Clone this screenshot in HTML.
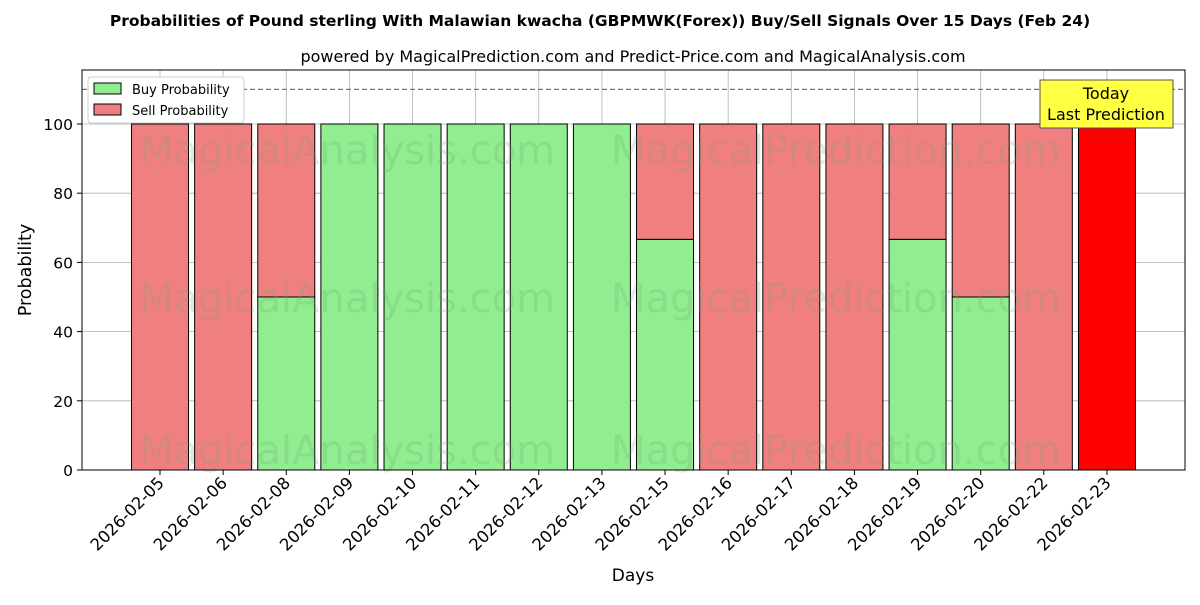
<!DOCTYPE html>
<html><head><meta charset="utf-8"><style>
body{margin:0;background:#fff;}
svg{font-family:"DejaVu Sans","Liberation Sans",sans-serif;}
</style></head><body>
<svg id="c" width="1200" height="600" xmlns="http://www.w3.org/2000/svg">
<text x="600" y="26" text-anchor="middle" font-size="15.5" font-weight="bold">Probabilities of Pound sterling With Malawian kwacha (GBPMWK(Forex)) Buy/Sell Signals Over 15 Days (Feb 24)</text>
<text x="633" y="62" text-anchor="middle" font-size="16">powered by MagicalPrediction.com and Predict-Price.com and MagicalAnalysis.com</text>
<g id="grid"></g><g id="bars"></g><g id="wm"></g><g id="axes"></g>
<text x="633" y="581" text-anchor="middle" font-size="17">Days</text>
<text transform="translate(31,270) rotate(-90)" text-anchor="middle" font-size="17.5">Probability</text>
</svg>
<script>
const categories=["2026-02-05","2026-02-06","2026-02-08","2026-02-09","2026-02-10","2026-02-11","2026-02-12","2026-02-13","2026-02-15","2026-02-16","2026-02-17","2026-02-18","2026-02-19","2026-02-20","2026-02-22","2026-02-23"];
const buyValues=[0,0,50,100,100,100,100,100,66.67,0,0,0,66.67,50,0,0];
const sellValues=[100,100,50,0,0,0,0,0,33.33,100,100,100,33.33,50,100,100];
const yTicks=[0,20,40,60,80,100];
const NS="http://www.w3.org/2000/svg";
const L=82,R=1185,T=70,B=470,YMAX=115.6;
const y=v=>B-(v/YMAX)*(B-T);
const x=i=>160+i*63.13;
const bw=57;
function mk(tag,attrs,parent,txt){const e=document.createElementNS(NS,tag);for(const k in attrs)e.setAttribute(k,attrs[k]);if(txt!==undefined)e.textContent=txt;document.getElementById(parent)?document.getElementById(parent).appendChild(e):parent.appendChild(e);return e;}
yTicks.forEach(t=>{
 const g=mk('line',{x1:L,x2:R,y1:y(t),y2:y(t),stroke:'#b0b0b0','stroke-width':0.8},'grid');
 
 
 const tk=mk('line',{x1:L-5,x2:L,y1:y(t),y2:y(t),stroke:'#000'},'axes');
 
 
 const tl=mk('text',{x:L-9,y:y(t)+6,'text-anchor':'end','font-size':15.5},'axes',String(t));
 
 
});
categories.forEach((c,i)=>{
 const g=mk('line',{x1:x(i),x2:x(i),y1:T,y2:B,stroke:'#b0b0b0','stroke-width':0.8},'grid');
 
 
 const last=i===categories.length-1;
 if(buyValues[i]>0){
  const b=mk('rect',{x:x(i)-bw/2,y:y(buyValues[i]),width:bw,height:B-y(buyValues[i]),fill:'#90ee90',stroke:'#000','stroke-width':1},'bars');
  
  
 }
 if(sellValues[i]>0){
  const s=mk('rect',{x:x(i)-bw/2,y:y(buyValues[i]+sellValues[i]),width:bw,height:y(buyValues[i])-y(buyValues[i]+sellValues[i]),fill:last?'#ff0000':'#f08080',stroke:'#000','stroke-width':1},'bars');
  
  
 }
 const tk=mk('line',{x1:x(i),x2:x(i),y1:B,y2:B+5,stroke:'#000'},'axes');
 
 
 const tl=mk('text',{x:x(i)+5,y:B+14,'text-anchor':'end','font-size':16.5,transform:`rotate(-45 ${x(i)+5} ${B+14})`},'axes',c);
 
 
});
const dl=mk('line',{x1:L,x2:R,y1:y(110),y2:y(110),stroke:'#777','stroke-dasharray':'5,3','stroke-width':1.2},'axes');


[[347,150],[836,150],[347,298],[836,298],[347,450],[836,450]].forEach((p,k)=>{
 const w=mk('text',{x:p[0],y:p[1]+14,'text-anchor':'middle','font-size':40,fill:'rgba(120,160,120,0.22)'},'wm',k%2?'MagicalPrediction.com':'MagicalAnalysis.com');
 
 
});
const fr=mk('rect',{x:L,y:T,width:R-L,height:B-T,fill:'none',stroke:'#000','stroke-width':1},'axes');


const lg=mk('g',{},'axes');


mk('rect',{x:88,y:77,width:156,height:46,fill:'#fff',stroke:'#ccc',rx:3},lg);
const l1=mk('rect',{x:94,y:83,width:27,height:11,fill:'#90ee90',stroke:'#000'},lg);


mk('text',{x:132,y:94,'font-size':13},lg,'Buy Probability');
const l2=mk('rect',{x:94,y:104,width:27,height:11,fill:'#f08080',stroke:'#000'},lg);


mk('text',{x:132,y:115,'font-size':13},lg,'Sell Probability');
const tb=mk('g',{},'axes');


mk('rect',{x:1040,y:80,width:133,height:48,fill:'#ffff44',stroke:'#555'},tb);
mk('text',{x:1106,y:99,'text-anchor':'middle','font-size':16},tb,'Today');
mk('text',{x:1106,y:120,'text-anchor':'middle','font-size':16},tb,'Last Prediction');
</script>
</body></html>
